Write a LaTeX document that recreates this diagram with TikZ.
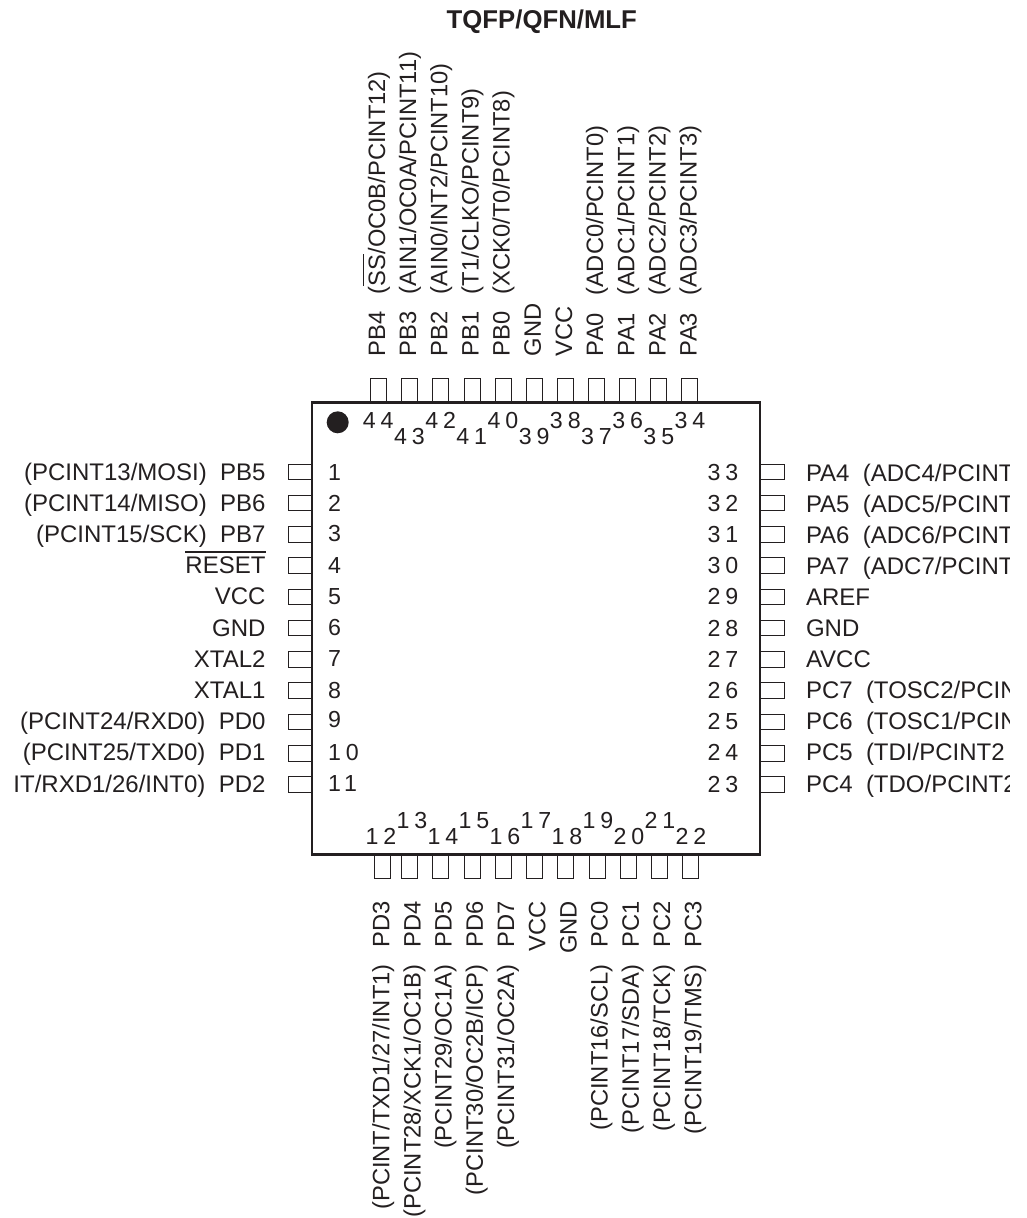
\documentclass[tikz,border=0pt]{standalone}
\usepackage{fontspec}
\setmainfont{Liberation Sans}
\newfontfamily\numfont[LetterSpace=21]{Liberation Sans}
\definecolor{chipblack}{HTML}{231F20}
\newcommand{\ovl}[1]{\leavevmode\vbox{\hrule height 1.2pt\kern 3pt\hbox{#1}}}
\tikzset{every picture/.style={line width=0.75pt}}
\tikzset{
  pinlabel/.style={inner sep=0pt,text=chipblack,font=\fontsize{17.8pt}{20pt}\selectfont},
  sidelabel/.style={inner sep=0pt,text=chipblack,font=\fontsize{18pt}{20pt}\selectfont},
  pinnum/.style={inner sep=0pt,text=chipblack,font=\numfont\fontsize{17.4pt}{20pt}\selectfont},
  pinbox/.style={draw=chipblack,line width=0.75pt},
  chipbody/.style={draw=chipblack,line width=2.1pt}
}

\begin{document}
\begin{tikzpicture}[x=0.75pt,y=0.75pt,yscale=-1,xscale=1]
    \useasboundingbox (0,0) rectangle (1026,1218);

    % Title
    \node [anchor=base,inner sep=0pt,text=chipblack,font=\bfseries\fontsize{19.3pt}{22pt}\selectfont] (title) at (541.8,28.3) {TQFP/QFN/MLF};

    % Top pins
    \foreach \lbl [count=\k from 0,evaluate=\k as \px using 370.7+31.1*\k,evaluate=\k as \bx using 385+31.17*\k,evaluate=\k as \nx using 378.3+31.17*\k,evaluate=\k as \num using int(44-\k)] in
      {{PB4~~\,(\ovl{SS}/OC0B/PCINT12)},{PB3~~\,(AIN1/OC0A/PCINT11)},{PB2~~\,(AIN0/INT2/PCINT10)},{PB1~~\,(T1/CLKO/PCINT9)},{PB0~~\,(XCK0/T0/PCINT8)},{GND},{VCC},{PA0~~\,(ADC0/PCINT0)},{PA1~~\,(ADC1/PCINT1)},{PA2~~\,(ADC2/PCINT2)},{PA3~~\,(ADC3/PCINT3)}}
    {
      \pgfmathsetmacro{\ny}{428+16*mod(\k,2)}
      \draw [pinbox] (\px,378.3) rectangle ++(16,24);
      \node [pinlabel,anchor=base west,rotate=90] (lblT\num) at (\bx,356.5) {\lbl};
      \node [pinnum,anchor=base] (numT\num) at (\nx,\ny) {\num};
    }

    % Bottom pins
    \foreach \lbl/\px [count=\k from 0,evaluate=\k as \bx using 389.3+31.2*\k,evaluate=\k as \nx using 381+31*\k,evaluate=\k as \num using int(12+\k)] in
      {{(PCINT/TXD1/27/INT1)~~\,PD3}/374.3,{(PCINT28/XCK1/OC1B)~~\,PD4}/401.7,{(PCINT29/OC1A)~~\,PD5}/432.7,{(PCINT30/OC2B/ICP)~~\,PD6}/464,{(PCINT31/OC2A)~~\,PD7}/495.7,{VCC}/526.7,{GND}/557.5,{(PCINT16/SCL)~~\,PC0}/589,{(PCINT17/SDA)~~\,PC1}/620,{(PCINT18/TCK)~~\,PC2}/651.7,{(PCINT19/TMS)~~\,PC3}/682.7}
    {
      \pgfmathsetmacro{\ny}{844-16*mod(\k,2)}
      \draw [pinbox] (\px,854) rectangle ++(16,24);
      \node [pinlabel,anchor=base east,rotate=90] (lblB\num) at (\bx,900.5) {\lbl};
      \node [pinnum,anchor=base] (numB\num) at (\nx,\ny) {\num};
    }

    % Left pins
    \foreach \lbl/\ny [count=\k from 0,evaluate=\k as \py using 464+31.27*\k,evaluate=\k as \by using 480+31.2*\k,evaluate=\k as \num using int(1+\k)] in
      {{(PCINT13/MOSI)~~PB5}/480,{(PCINT14/MISO)~~PB6}/511.7,{(PCINT15/SCK)~~PB7}/541.7,{\ovl{RESET}}/573,{VCC}/604,{GND}/635,{XTAL2}/666.7,{XTAL1}/698,{(PCINT24/RXD0)~~PD0}/727,{(PCINT25/TXD0)~~PD1}/760,{IT/RXD1/26/INT0)~~PD2}/791.7}
    {
      \draw [pinbox] (288,\py) rectangle ++(24,15.6);
      \node [sidelabel,anchor=base east] (lblL\num) at (266,\by) {\lbl};
      \node [pinnum,anchor=base west] (numL\num) at (327.5,\ny) {\num};
    }

    % Right pins
    \begin{scope}
      \clip (0,0) rectangle (1009,1218);
      \foreach \lbl [count=\k from 0,evaluate=\k as \py using 464+31.27*\k,evaluate=\k as \by using 481+31.1*\k,evaluate=\k as \ny using 480+31.2*\k,evaluate=\k as \num using int(33-\k)] in
        {{PA4~~(ADC4/PCINT},{PA5~~(ADC5/PCINT},{PA6~~(ADC6/PCINT},{PA7~~(ADC7/PCINT},{AREF},{GND},{AVCC},{PC7~~(TOSC2/PCIN},{PC6~~(TOSC1/PCIN},{PC5~~(TDI/PCINT2},{PC4~~(TDO/PCINT2}}
      {
        \draw [pinbox] (760,\py) rectangle ++(24,15.6);
        \node [sidelabel,anchor=base west] (lblR\num) at (805.5,\by) {\lbl};
        \node [pinnum,anchor=base west] (numR\num) at (707,\ny) {\num};
      }
    \end{scope}

    % Chip outline and pin 1 mark
    \draw [chipbody] (312,402.5) rectangle (760,854.5);
    \fill [chipblack] (337.7,422.3) circle (11);

\end{tikzpicture}
\end{document}
